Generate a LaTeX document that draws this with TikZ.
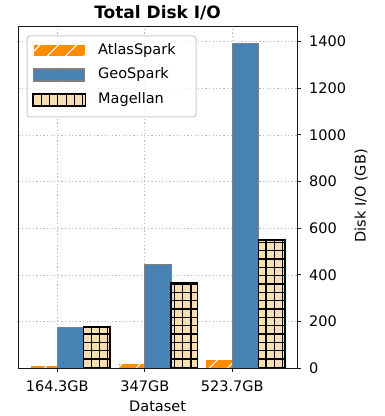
\documentclass[tikz,border=0pt]{standalone}
\usepackage{fontspec}
\setmainfont{DejaVu Sans}
\begin{document}
\begin{tikzpicture}[x=1pt,y=1pt,
  gridline/.style={draw=gray!55, line width=0.9pt, dash pattern=on 1.2pt off 2.4pt},
  spine/.style={draw=black!90, line width=1pt},
  atlas/.style={fill={rgb,255:red,255;green,140;blue,0}},
  geo/.style={fill={rgb,255:red,70;green,130;blue,180}, draw=gray, line width=1.1pt},
  mag/.style={fill={rgb,255:red,245;green,222;blue,179}},
  maghatch/.style={draw=black, line width=1.1pt},
  atlashatch/.style={draw=white, line width=1.1pt},
  ticklab/.style={font=\fontsize{14.5}{16}\selectfont, inner sep=0pt},
  tickmark/.style={draw=black!90, line width=1pt}
]
\useasboundingbox (0,0) rectangle (385,416);
% grid
\foreach \gx in {57.3,144.8,232.3} \draw[gridline] (\gx,47.7) -- (\gx,389);
\foreach \v in {1,...,7} \draw[gridline] (18.3,{47.7+0.2333*200*\v}) -- (297,{47.7+0.2333*200*\v});
% AtlasSpark bars
\foreach \xa/\xb/\yt in {31.05/57.3/49.6, 118.55/144.8/52.4, 206.05/232.3/56.3}{
  \fill[atlas] (\xa,47.7) rectangle (\xb,\yt);
  \begin{scope}
    \clip (\xa,47.7) rectangle (\xb,\yt);
    \foreach \k in {-2,...,17} \draw[atlashatch] ({\k*18.3},40) -- ({\k*18.3+30},70);
  \end{scope}
}
% GeoSpark bars
\foreach \xa/\xb/\yt in {57.3/83.55/88.8, 144.8/171.05/151.8, 232.3/258.55/372.2}{
  \draw[geo] (\xa,47.7) rectangle (\xb,\yt);
}
% Magellan bars
\foreach \xa/\xb/\yt in {83.55/109.8/88.8, 171.05/197.3/133.3, 258.55/284.8/176.0}{
  \fill[mag] (\xa,47.7) rectangle (\xb,\yt);
  \begin{scope}
    \clip (\xa,47.7) rectangle (\xb,\yt);
    \foreach \k in {-30,...,4} \draw[maghatch] ({266+8.33*\k},40) -- ({266+8.33*\k},190);
    \foreach \k in {-5,...,13} \draw[maghatch] (75,{82+8.33*\k}) -- (295,{82+8.33*\k});
  \end{scope}
  \draw[black, line width=1.5pt] (\xa,47.7) rectangle (\xb,\yt);
}
% spines
\draw[spine] (18.3,47.7) rectangle (297,389);
% y ticks right
\foreach \v in {0,200,...,1400}{
  \draw[tickmark] (297,{47.7+0.2333*\v}) -- (300.5,{47.7+0.2333*\v});
  \node[ticklab, anchor=west] (yt\v) at (309,{47.7+0.2333*\v}) {\v};
}
% x ticks
\foreach \gx/\lab/\nm in {57.3/164.3GB/a,144.8/347GB/b,232.3/523.7GB/c}{
  \draw[tickmark] (\gx,47.7) -- (\gx,44.2);
  \node[ticklab] (xt\nm) at (\gx,30) {\lab};
}
% axis labels and title
\node[ticklab] (xlabel) at (157.6,9.5) {Dataset};
\node[ticklab, rotate=90] (ylabel) at (361,220) {Disk I/O (GB)};
\node[inner sep=0pt, font=\fontsize{17}{19}\selectfont\bfseries] (title) at (157.6,403) {Total Disk I/O};
% legend
\draw[draw=gray!40, fill=white, fill opacity=0.8, line width=1pt, rounded corners=3pt] (27,299) rectangle (196,380);
\fill[atlas] (34,360) rectangle (84.5,371);
\begin{scope}
  \clip (34,360) rectangle (84.5,371);
  \foreach \k in {0,...,5} \draw[atlashatch] ({24+\k*18.3},355) -- ({24+\k*18.3+20},375);
\end{scope}
\draw[geo] (33.5,335) rectangle (84.5,347);
\fill[mag] (33,310) rectangle (85.5,322);
\begin{scope}
  \clip (33,310) rectangle (85.5,322);
  \foreach \k in {-28,...,-21} \draw[maghatch] ({266+8.33*\k},305) -- ({266+8.33*\k},330);
\end{scope}
\draw[black, line width=1.5pt] (33,310) rectangle (85.5,322);
\node[ticklab, anchor=west] (la) at (98,365.5) {AtlasSpark};
\node[ticklab, anchor=west] (lg) at (98,341) {GeoSpark};
\node[ticklab, anchor=west] (lm) at (98,316) {Magellan};
\end{tikzpicture}
\end{document}
